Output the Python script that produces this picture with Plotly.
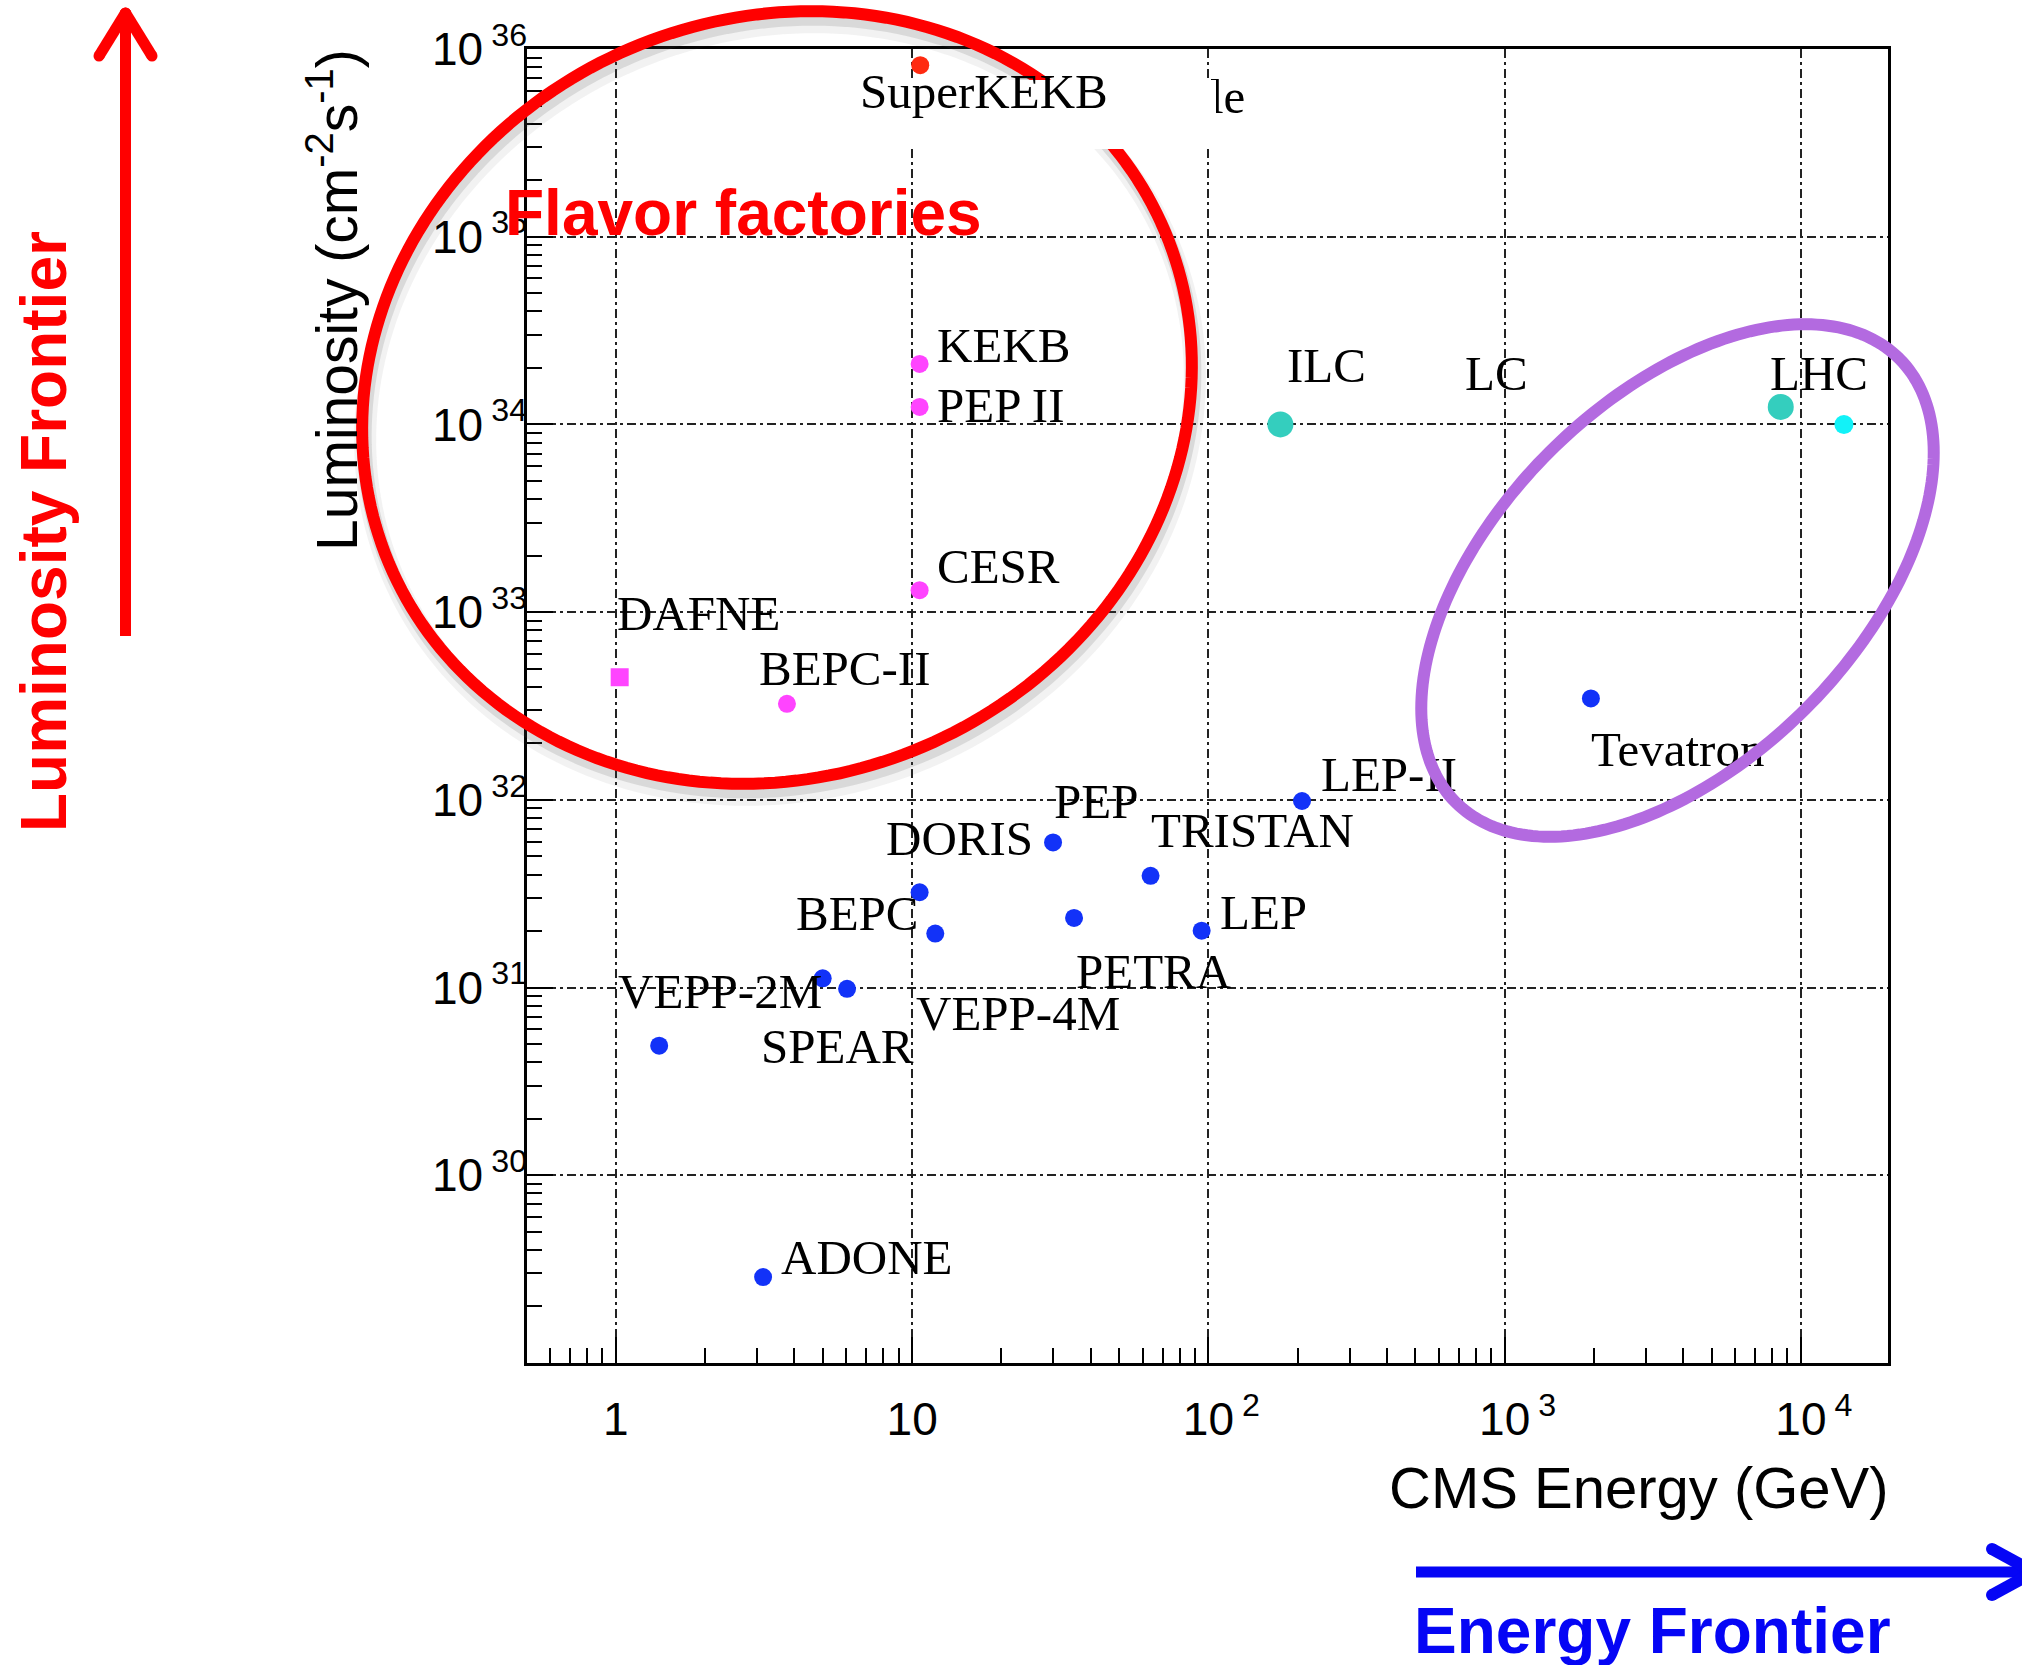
import numpy as np
import plotly.graph_objects as go

# ---------------- data: collider energy (GeV) vs peak luminosity (cm^-2 s^-1) ----------------
# past / running e+e- and hadron colliders (blue)
blue_energy = [1.40, 3.14, 4.99, 6.03, 10.6, 11.97, 29.9, 35.2, 63.8, 94.9, 207, 1955]
blue_lumi = [4.9e30, 2.87e29, 1.12e31, 9.85e30, 3.22e31, 1.94e31,
             5.93e31, 2.35e31, 3.94e31, 2.01e31, 9.86e31, 3.47e32]

# flavor factories (magenta): DAFNE, BEPC-II, CESR, PEP II, KEKB
flavor_energy = [1.03, 3.78, 10.6, 10.6, 10.6]
flavor_lumi = [4.5e32, 3.25e32, 1.31e33, 1.24e34, 2.1e34]

# energy-frontier machines (teal): ILC, LHC
frontier_energy = [175, 8550]
frontier_lumi = [1.0e34, 1.24e34]

# LHC design point (cyan)
lhc_design_energy = [13970]
lhc_design_lumi = [1.0e34]

# SuperKEKB (red)
superkekb_energy = [10.65]
superkekb_lumi = [8.2e35]

x_tickvals = [1, 10, 100, 1000, 10000]
x_powers = [None, None, 2, 3, 4]
y_tickvals = [1e30, 1e31, 1e32, 1e33, 1e34, 1e35, 1e36]
y_powers = [30, 31, 32, 33, 34, 35, 36]

THIN = "\u2005"
GHOST = "<span style='color:rgba(0,0,0,0)'>%s</span>"


def x_label(v, p):
    if p is None:
        return str(v)
    # an invisible copy of the exponent in front keeps the "10" centred on its tick
    return "<sup>" + GHOST % (THIN + str(p)) + "</sup>10<sup>" + THIN + str(p) + "</sup>"


x_ticktext = [x_label(v, p) for v, p in zip(x_tickvals, x_powers)]
y_ticktext = ["10<sup>" + THIN + str(p) + "</sup>" for p in y_powers]

# ---------------- geometry ----------------
W, H = 2022, 1665
ML, MR, MT, MB = 527, 134, 49, 302
PW, PH = W - ML - MR, H - MT - MB
XR = [-0.300, 4.294]
YR = [29.0, 36.0]


def paper(px, py):
    """pixel position on the page -> paper coordinates"""
    return (px - ML) / PW, (MT + PH - py) / PH


def px_to_data(px, py):
    lx = XR[0] + (px - ML) / PW * (XR[1] - XR[0])
    ly = YR[0] + (MT + PH - py) / PH * (YR[1] - YR[0])
    return 10 ** lx, 10 ** ly


# text labels: (text, left edge px, cap-centre px)
label_place = [
    ("KEKB", 937, 346), ("PEP II", 937, 406), ("CESR", 937, 567),
    ("DAFNE", 617, 614), ("BEPC-II", 759, 669),
    ("ILC", 1287, 366), ("LC", 1465, 374), ("LHC", 1770, 374),
    ("Tevatron", 1591, 750), ("LEP-II", 1321, 775), ("PEP", 1054, 802),
    ("DORIS", 886, 839), ("TRISTAN", 1151, 831), ("BEPC", 796, 914),
    ("LEP", 1220, 913), ("PETRA", 1076, 972), ("VEPP-2M", 618, 992),
    ("VEPP-4M", 916, 1014), ("SPEAR", 761, 1047), ("ADONE", 781, 1258),
    ("le", 1210, 97),
]
LABEL_SIZE = 49
SERIF = "Liberation Serif, Times New Roman, serif"
SANS = "Liberation Sans, Arial, Helvetica, sans-serif"

fig = go.Figure()

fig.add_trace(go.Scatter(x=blue_energy, y=blue_lumi, mode="markers",
                         marker=dict(color="#1232F8", size=18, line=dict(width=0)),
                         cliponaxis=False, hoverinfo="x+y"))
fig.add_trace(go.Scatter(x=flavor_energy, y=flavor_lumi, mode="markers",
                         marker=dict(color="#FF44FF", size=18,
                                     symbol=["square", "circle", "circle", "circle", "circle"],
                                     line=dict(width=0)),
                         cliponaxis=False, hoverinfo="x+y"))
fig.add_trace(go.Scatter(x=frontier_energy, y=frontier_lumi, mode="markers",
                         marker=dict(color="#34CEBE", size=26, line=dict(width=0)),
                         cliponaxis=False, hoverinfo="x+y"))
fig.add_trace(go.Scatter(x=lhc_design_energy, y=lhc_design_lumi, mode="markers",
                         marker=dict(color="#12F2F8", size=19, line=dict(width=0)),
                         cliponaxis=False, hoverinfo="x+y"))
fig.add_trace(go.Scatter(x=superkekb_energy, y=superkekb_lumi, mode="markers",
                         marker=dict(color="#FF2A10", size=18, line=dict(width=0)),
                         cliponaxis=False, hoverinfo="x+y"))

# machine names (placed by their left edge; baseline sits 0.25em below the anchor)
lab_x, lab_y, lab_t = [], [], []
for txt, lx, cy in label_place:
    dx, dy = px_to_data(lx, cy + 0.08 * LABEL_SIZE)
    lab_x.append(dx)
    lab_y.append(dy)
    lab_t.append(txt)
fig.add_trace(go.Scatter(x=lab_x, y=lab_y, text=lab_t, mode="text",
                         textposition="middle right",
                         textfont=dict(family=SERIF, size=LABEL_SIZE, color="black"),
                         cliponaxis=False, hoverinfo="skip"))

# ---------------- decorations ----------------
shapes = []


def ellipse_path(cx, cy, a, b, theta_deg, dx=0, dy=0, n=240):
    th = np.radians(theta_deg)
    t = np.linspace(0, 2 * np.pi, n, endpoint=False)
    xs = cx + dx + a * np.cos(t) * np.cos(th) - b * np.sin(t) * np.sin(th)
    ys = cy + dy - (a * np.cos(t) * np.sin(th) + b * np.sin(t) * np.cos(th))
    pts = [paper(x, y) for x, y in zip(xs, ys)]
    return "M " + " L ".join("%.5f,%.5f" % p for p in pts) + " Z"


# soft shadow under the flavor-factory ring
for (sdx, sdy, col, w) in [(3, 11, "rgba(70,70,70,0.07)", 22), (2, 7, "rgba(70,70,70,0.14)", 15)]:
    shapes.append(dict(type="path", xref="paper", yref="paper",
                       path=ellipse_path(777, 397.5, 422, 378.5, 24.5, sdx, sdy),
                       line=dict(color=col, width=w), layer="above"))
shapes.append(dict(type="path", xref="paper", yref="paper",
                   path=ellipse_path(777, 397.5, 422, 378.5, 24.5),
                   line=dict(color="#FF0000", width=12), layer="above"))
# energy-frontier ring
shapes.append(dict(type="path", xref="paper", yref="paper",
                   path=ellipse_path(1677.5, 580.5, 313.7, 181.4, 45.0),
                   line=dict(color="#B36AE0", width=12), layer="above"))

# white label plate behind "SuperKEKB"
x0, y0 = paper(850, 149)
x1, y1 = paper(1216, 80)
shapes.append(dict(type="rect", xref="paper", yref="paper", x0=x0, y0=y0, x1=x1, y1=y1,
                   fillcolor="white", line=dict(width=0), layer="above"))


def rounded_segment(p0, p1, color, width):
    a = paper(*p0)
    b = paper(*p1)
    out = [dict(type="line", xref="paper", yref="paper", x0=a[0], y0=a[1], x1=b[0], y1=b[1],
                line=dict(color=color, width=width), layer="above")]
    r = width / 2.0
    for (px, py) in (p0, p1):
        c0 = paper(px - r, py + r)
        c1 = paper(px + r, py - r)
        out.append(dict(type="circle", xref="paper", yref="paper",
                        x0=c0[0], y0=c0[1], x1=c1[0], y1=c1[1],
                        fillcolor=color, line=dict(width=0), layer="above"))
    return out


# luminosity arrow (up)
RED = "#FF0000"
shapes.append(dict(type="line", xref="paper", yref="paper",
                   x0=paper(125.5, 636)[0], y0=paper(125.5, 636)[1],
                   x1=paper(125.5, 16)[0], y1=paper(125.5, 16)[1],
                   line=dict(color=RED, width=11), layer="above"))
shapes += rounded_segment((99, 56), (125.5, 13), RED, 11)
shapes += rounded_segment((152, 56), (125.5, 13), RED, 11)

# energy arrow (right)
BLUE = "#0505F5"
shapes.append(dict(type="line", xref="paper", yref="paper",
                   x0=paper(1416, 1572)[0], y0=paper(1416, 1572)[1],
                   x1=paper(2030, 1572)[0], y1=paper(2030, 1572)[1],
                   line=dict(color=BLUE, width=11), layer="above"))
shapes += rounded_segment((1992, 1549), (2034, 1572), BLUE, 12)
shapes += rounded_segment((1992, 1595), (2034, 1572), BLUE, 12)

annotations = []


def note(text, px, py, size, color="black", family=SANS, xanchor="left", angle=0):
    x, y = paper(px, py)
    annotations.append(dict(text=text, x=x, y=y, xref="paper", yref="paper",
                            xanchor=xanchor, yanchor="middle", showarrow=False,
                            textangle=angle,
                            font=dict(family=family, size=size, color=color)))


note("SuperKEKB", 858, 92, LABEL_SIZE, family=SERIF)
note("<b>Flavor factories</b>", 503, 213, 64, color=RED)
note("<b>Energy Frontier</b>", 1412, 1631, 64, color=BLUE)
note("<b>Luminosity Frontier</b>", 44, 532, 64, color=RED, xanchor="center", angle=-90)
note("CMS Energy (GeV)", 1891, 1488, 58, xanchor="right")
note("Luminosity (cm<sup>-2</sup>s<sup>-1</sup>)", 333, 300, 57, xanchor="center", angle=-90)

minor_x = [k * 10.0 ** n for n in range(-1, 5) for k in range(2, 10)
           if XR[0] <= np.log10(k * 10.0 ** n) <= XR[1]]
minor_y = [k * 10.0 ** n for n in range(29, 36) for k in range(2, 10)]

GRID = dict(showgrid=True, gridcolor="#222222", gridwidth=2, griddash="9px,4px,3px,4px")
axis_common = dict(type="log", tickmode="array", ticks="inside", ticklen=26, tickwidth=2,
                   tickcolor="black", showline=True, linecolor="black", linewidth=2.5,
                   mirror=True, zeroline=False,
                   tickfont=dict(family=SANS, size=46, color="black"), **GRID)

fig.update_layout(
    width=W, height=H,
    margin=dict(l=ML, r=MR, t=MT, b=MB, pad=0),
    paper_bgcolor="white", plot_bgcolor="white",
    showlegend=False,
    xaxis=dict(range=XR, tickvals=x_tickvals, ticktext=x_ticktext, ticklabelstandoff=14,
               minor=dict(tickmode="array", tickvals=minor_x, ticks="inside", ticklen=15,
                          tickwidth=2, tickcolor="black", showgrid=False),
               **axis_common),
    yaxis=dict(range=YR, tickvals=y_tickvals, ticktext=y_ticktext, ticklabelstandoff=-12,
               minor=dict(tickmode="array", tickvals=minor_y, ticks="inside", ticklen=15,
                          tickwidth=2, tickcolor="black", showgrid=False),
               **axis_common),
    shapes=shapes,
    annotations=annotations,
)

fig.write_html("out.html", post_script="document.body.style.margin='0';")
